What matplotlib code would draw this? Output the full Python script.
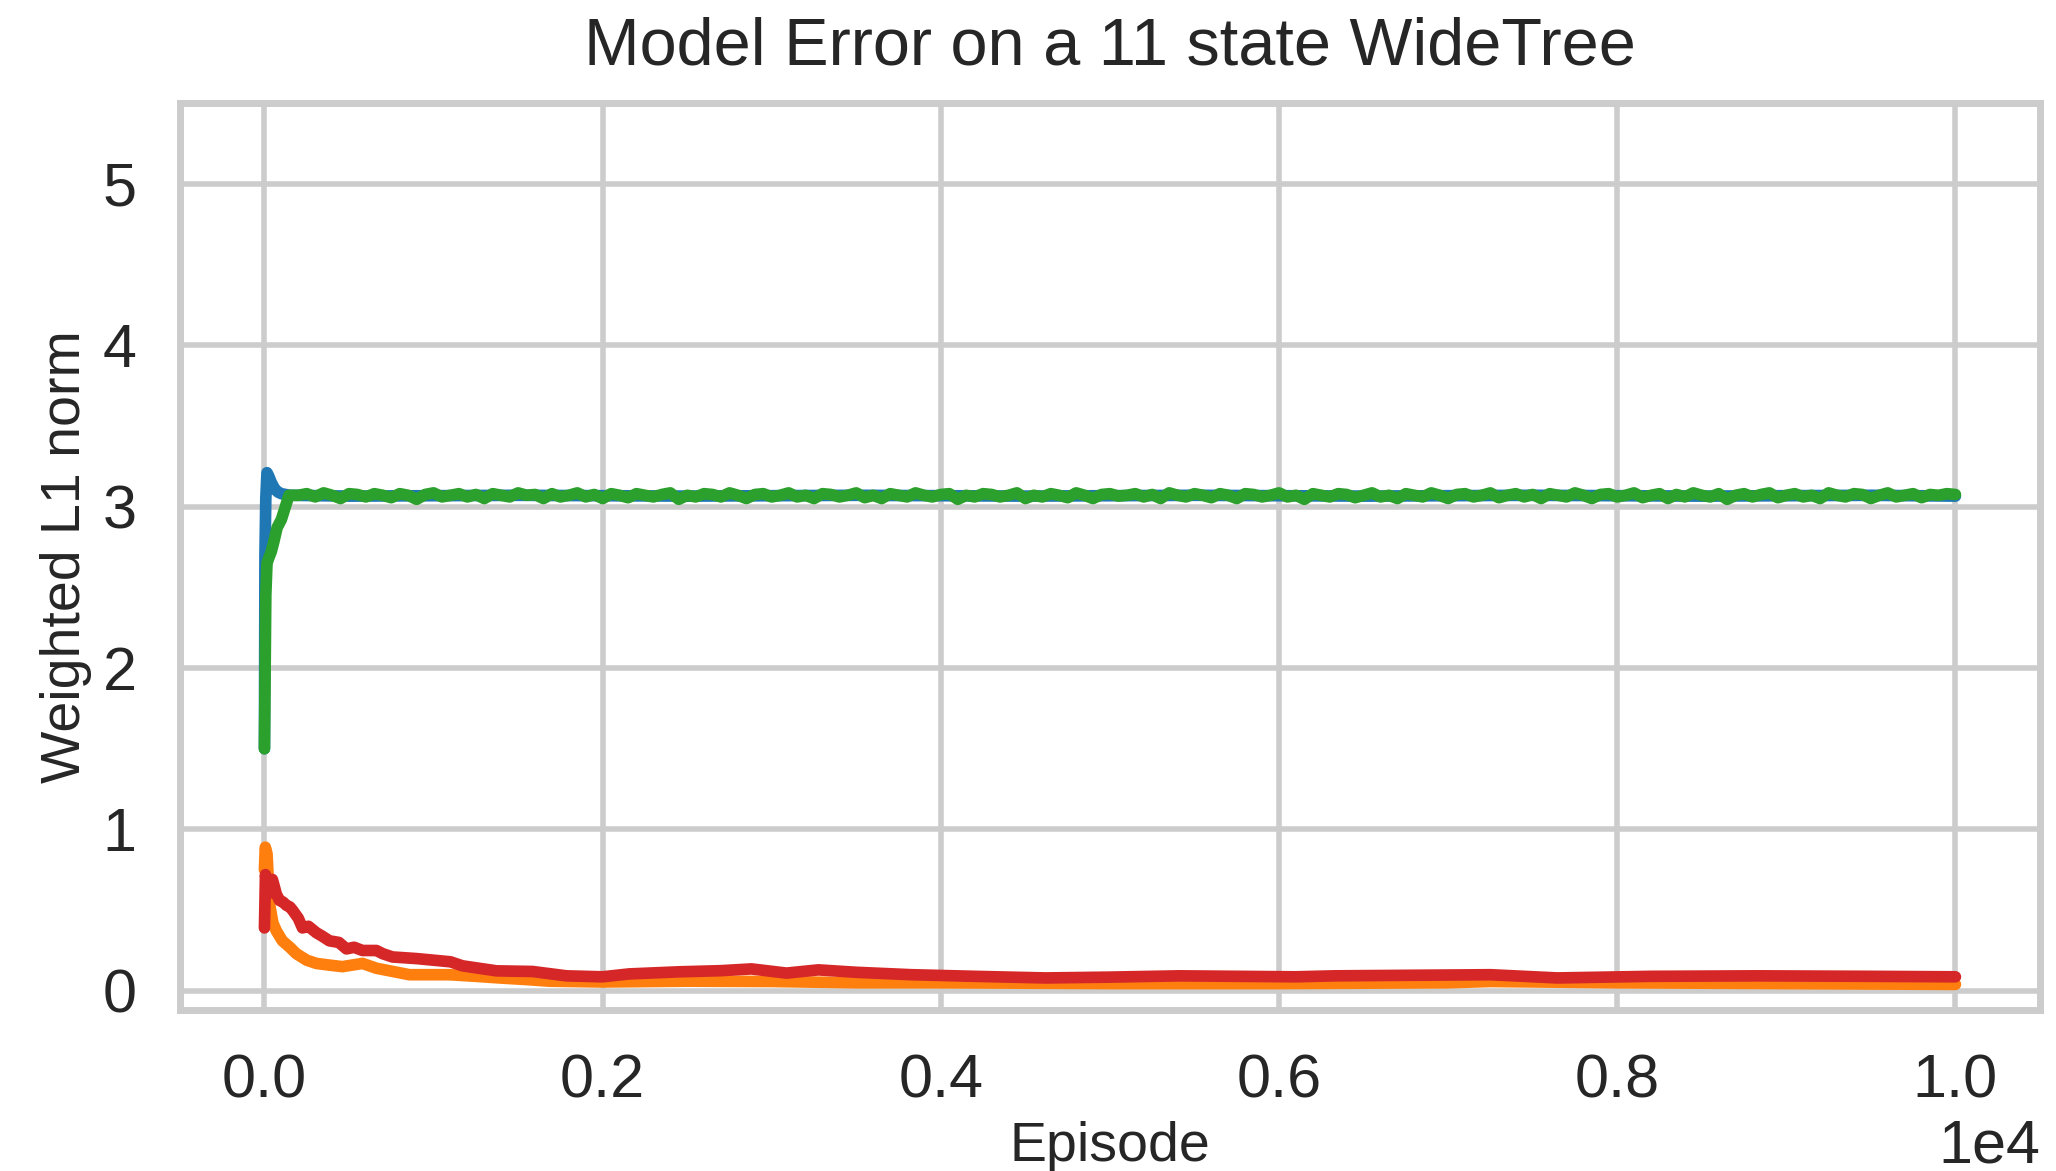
import numpy as np
import matplotlib
matplotlib.use('Agg')
import matplotlib.pyplot as plt
import seaborn as sns

sns.set_theme(context='poster', style='whitegrid')
plt.rcParams['font.family'] = ['Liberation Sans', 'DejaVu Sans']

# early transient
blue_ep = [0, 3, 8, 15, 25, 40, 60, 80, 100, 150]
blue_val = [1.5, 2.7, 3.05, 3.21, 3.19, 3.15, 3.11, 3.09, 3.08, 3.07]

green_ep = [0, 5, 8, 15, 25, 40, 55, 75, 100, 115, 130, 145, 170]
green_val = [1.5, 2.1, 2.45, 2.65, 2.68, 2.72, 2.78, 2.87, 2.92, 2.97, 3.02, 3.07, 3.07]

# flat part, sampled every 50 episodes from 200 to 10000
flat_ep = np.arange(200, 10001, 50)
green_flat = [3.07, 3.08, 3.06, 3.085, 3.07, 3.05, 3.08, 3.075, 3.06, 3.08,
              3.07, 3.055, 3.08, 3.07, 3.045, 3.075, 3.085, 3.06, 3.07, 3.08,
              3.06, 3.075, 3.05, 3.08, 3.07, 3.06, 3.085, 3.07, 3.075, 3.05,
              3.08, 3.06, 3.07, 3.085, 3.06, 3.075, 3.05, 3.08, 3.07, 3.055,
              3.08, 3.07, 3.06, 3.075, 3.085, 3.045, 3.07, 3.06, 3.08, 3.075,
              3.06, 3.085, 3.07, 3.05, 3.075, 3.08, 3.06, 3.07, 3.085, 3.06,
              3.07, 3.05, 3.08, 3.075, 3.06, 3.07, 3.085, 3.055, 3.07, 3.05,
              3.08, 3.07, 3.06, 3.085, 3.07, 3.06, 3.075, 3.08, 3.045, 3.07,
              3.06, 3.08, 3.075, 3.06, 3.07, 3.085, 3.05, 3.07, 3.06, 3.08,
              3.07, 3.055, 3.085, 3.07, 3.05, 3.075, 3.08, 3.065, 3.07, 3.08,
              3.06, 3.075, 3.05, 3.085, 3.07, 3.06, 3.08, 3.07, 3.055, 3.08,
              3.07, 3.05, 3.08, 3.075, 3.06, 3.07, 3.085, 3.06, 3.07, 3.045,
              3.08, 3.07, 3.06, 3.08, 3.075, 3.055, 3.07, 3.085, 3.06, 3.07,
              3.05, 3.08, 3.07, 3.06, 3.085, 3.07, 3.05, 3.075, 3.08, 3.06,
              3.07, 3.085, 3.055, 3.07, 3.08, 3.06, 3.075, 3.05, 3.08, 3.07,
              3.06, 3.085, 3.07, 3.05, 3.075, 3.08, 3.06, 3.07, 3.085, 3.055,
              3.07, 3.08, 3.05, 3.075, 3.06, 3.085, 3.07, 3.06, 3.08, 3.045,
              3.07, 3.08, 3.06, 3.075, 3.085, 3.055, 3.07, 3.08, 3.06, 3.07,
              3.05, 3.085, 3.07, 3.06, 3.08, 3.075, 3.05, 3.07, 3.085, 3.06,
              3.07, 3.08, 3.055, 3.075, 3.07, 3.08, 3.075]

blue_tail_ep = [500, 1500, 2500, 3500, 4500, 5500, 6500, 7500, 8500, 9500, 10000]
blue_tail = [3.065, 3.07, 3.065, 3.07, 3.065, 3.07, 3.065, 3.07, 3.065, 3.07, 3.065]

orange_ep = [0, 5, 15, 30, 50, 71, 106, 150, 189, 250, 307, 380, 461, 520, 580,
             662, 760, 857, 1000, 1094, 1250, 1390, 1550, 1685, 2000, 2500, 3000,
             3500, 4000, 5000, 6000, 7000, 7250, 8000, 9000, 10000]
orange_val = [0.75, 0.89, 0.85, 0.54, 0.42, 0.37, 0.31, 0.27, 0.23, 0.19, 0.17, 0.16,
              0.15, 0.16, 0.17, 0.14, 0.12, 0.10, 0.10, 0.10, 0.09, 0.08, 0.07,
              0.06, 0.055, 0.06, 0.058, 0.05, 0.05, 0.045, 0.045, 0.05, 0.058,
              0.05, 0.045, 0.04]

red_ep = [0, 6, 20, 35, 47, 60, 70, 89, 110, 130, 150, 166, 200, 225, 260, 307,
          340, 384, 440, 485, 530, 580, 662, 700, 757, 899, 1000, 1100, 1171,
          1372, 1585, 1786, 1999, 2158, 2454, 2700, 2880, 3087, 3276, 3500, 3826,
          4200, 4618, 5000, 5411, 6097, 6327, 7250, 7646, 8200, 8835, 9500, 10000]
red_val = [0.39, 0.72, 0.60, 0.66, 0.69, 0.64, 0.60, 0.56, 0.55, 0.53, 0.52, 0.50,
           0.45, 0.39, 0.40, 0.36, 0.34, 0.31, 0.30, 0.26, 0.27, 0.25, 0.25, 0.23,
           0.21, 0.20, 0.19, 0.18, 0.155, 0.124, 0.12, 0.093, 0.087, 0.105, 0.118,
           0.125, 0.136, 0.11, 0.13, 0.115, 0.10, 0.09, 0.08, 0.085, 0.093, 0.087,
           0.093, 0.10, 0.08, 0.09, 0.093, 0.09, 0.087]

colors = ['#1f77b4', '#ff7f0e', '#2ca02c', '#d62728']

fig = plt.figure(figsize=(10.28, 5.855), dpi=200)
ax = fig.add_axes([0.0875, 0.1375, 0.9047, 0.7745])

lw = 4.2
ax.plot(blue_ep + blue_tail_ep, blue_val + blue_tail, color=colors[0], lw=lw)
ax.plot(orange_ep, orange_val, color=colors[1], lw=lw)
ax.plot(green_ep + list(flat_ep), green_val + green_flat, color=colors[2], lw=lw)
ax.plot(red_ep, red_val, color=colors[3], lw=lw)

ax.set_ylim(top=5.5)
ax.ticklabel_format(axis='x', style='sci', scilimits=(0, 0))
ax.set_title('Model Error on a 11 state WideTree', pad=14)
ax.set_xlabel('Episode', fontsize=20, labelpad=4)
ax.set_ylabel('Weighted L1 norm', fontsize=20)

fig.savefig('out.png', dpi=200)
